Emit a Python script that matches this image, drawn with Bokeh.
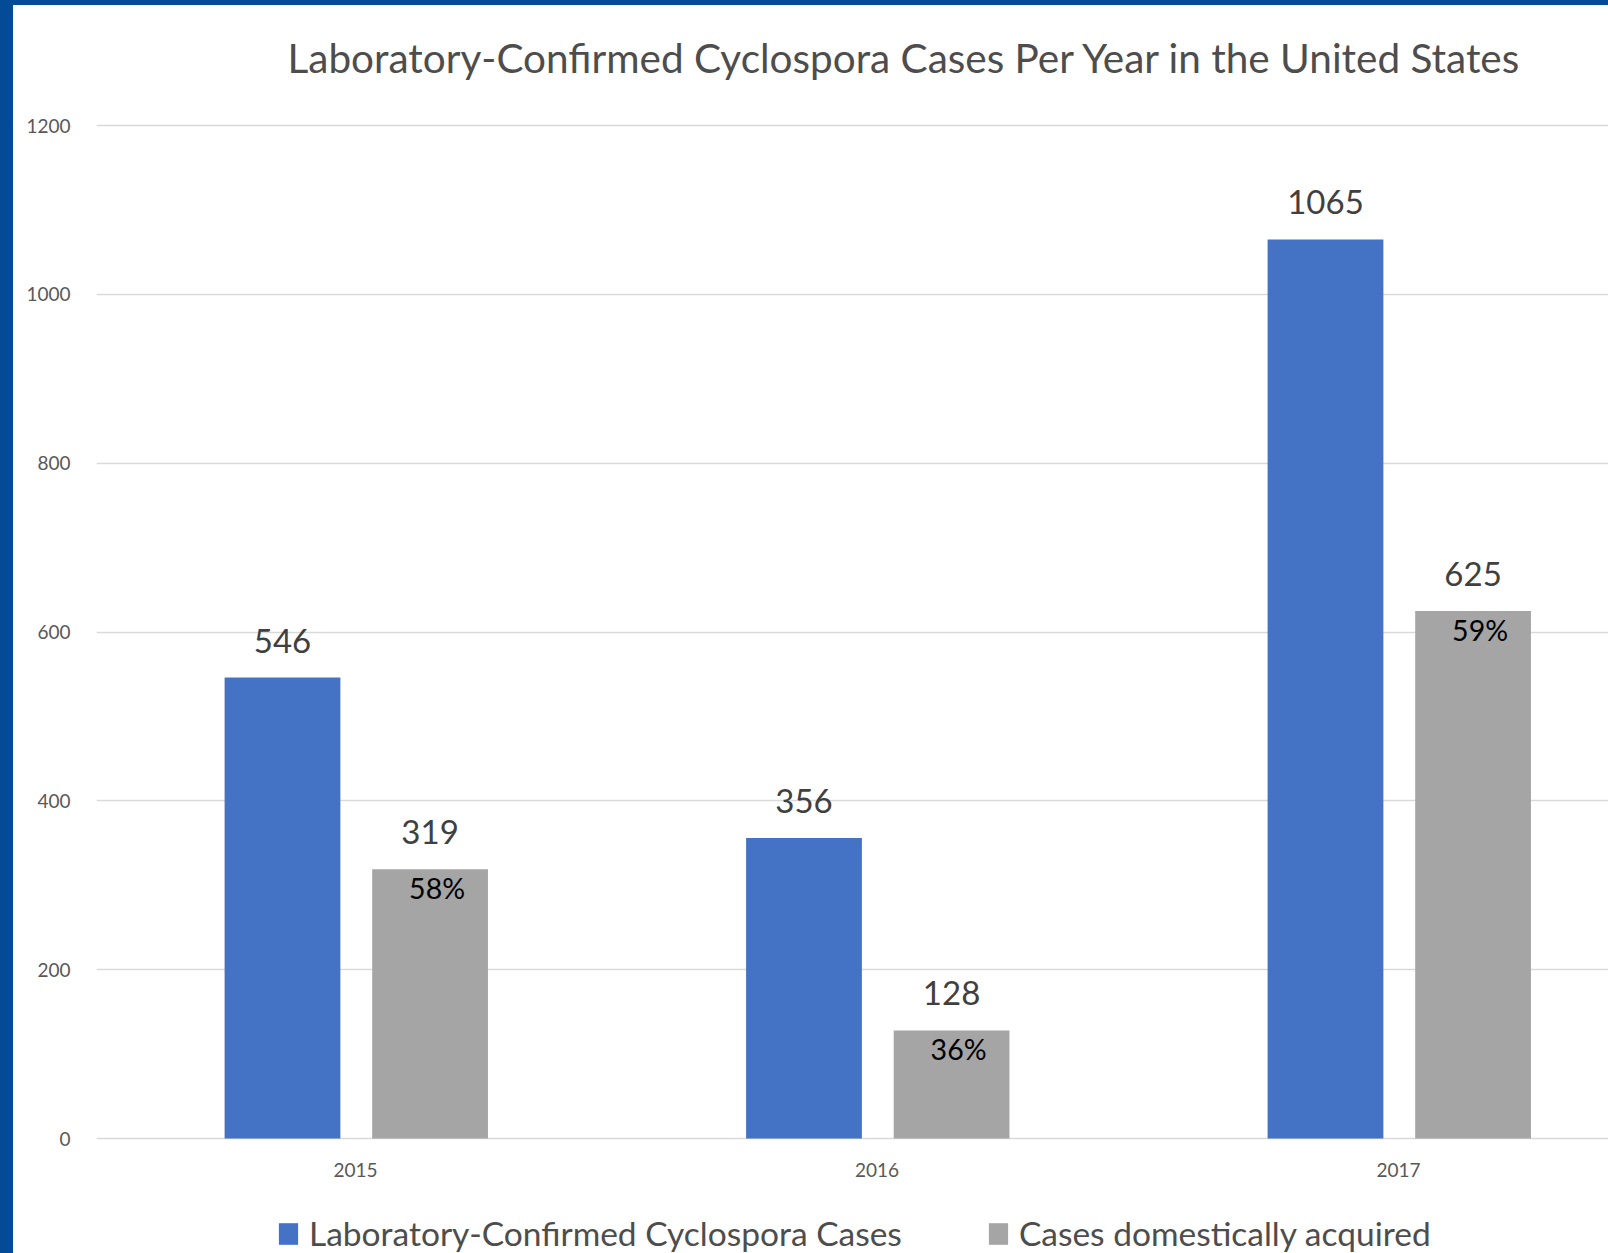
from bokeh.plotting import figure
from bokeh.models import Range1d, FixedTicker, Legend, LegendItem, Spacer
from bokeh.layouts import row, column
from bokeh.core.properties import value
from bokeh.embed import file_html
from bokeh.resources import INLINE

# ---- data ----
years = ["2015", "2016", "2017"]
confirmed = [546, 356, 1065]
domestic = [319, 128, 625]
domestic_pct = ["58%", "36%", "59%"]
series_names = ["Laboratory-Confirmed Cyclospora Cases", "Cases domestically acquired"]
y_ticks = [0, 200, 400, 600, 800, 1000, 1200]
title_text = "Laboratory-Confirmed Cyclospora Cases Per Year in the United States"

# ---- style / geometry ----
FONT = "Lato"
BLUE = "#4472C4"
GRAY = "#A5A5A5"
TXT = "#595959"
TXT_DARK = "#4d4d4d"
EDGE = "#034a97"
W, H = 1595, 1248
FL, FT = 83, 100
Y0_PX, Y1200_PX = 1133, 120          # canvas rows of value 0 and 1200
px_per_val = (Y0_PX - Y1200_PX) / 1200.0
y_end = 1200 + (Y1200_PX - FT) / px_per_val
y_start = -(H - Y0_PX) / px_per_val

pos = [i + 0.5 for i in range(len(years))]
x_blue = [c - 0.14 for c in pos]
x_gray = [c + 0.143 for c in pos]
px_per_unit = 521.5
x_start = 0.5 - 259 / px_per_unit
x_end = x_start + (W - FL) / px_per_unit

p = figure(width=W, height=H, x_range=Range1d(x_start, x_end), y_range=Range1d(y_start, y_end),
           output_backend="svg", toolbar_location=None,
           min_border_left=FL, min_border_right=0, min_border_top=FT, min_border_bottom=0)
p.outline_line_color = None
p.background_fill_color = "white"
p.border_fill_color = "white"

p.title.text = title_text
p.title.text_font = FONT
p.title.text_font_size = "40.5px"
p.title.text_font_style = "normal"
p.title.text_color = TXT_DARK
p.title.align = "left"
p.title.vertical_align = "bottom"
p.title.offset = 191
p.title.standoff = 48

r1 = p.vbar(x=x_blue, top=confirmed, width=0.222, color=BLUE, line_color=None)
r2 = p.vbar(x=x_gray, top=domestic, width=0.222, color=GRAY, line_color=None)

p.text(x=x_blue, y=confirmed, text=[str(v) for v in confirmed], text_align="center",
       text_baseline="middle", y_offset=-37, text_font=value(FONT), text_font_size="33px",
       text_color="#404040")
p.text(x=x_gray, y=domestic, text=[str(v) for v in domestic], text_align="center",
       text_baseline="middle", y_offset=-37, text_font=value(FONT), text_font_size="33px",
       text_color="#404040")
p.text(x=x_gray, y=domestic, text=domestic_pct, text_align="center",
       text_baseline="middle", x_offset=7, y_offset=19, text_font=value(FONT),
       text_font_size="28.5px", text_color="black")

# category labels under the bars
p.text(x=pos, y=[0] * len(pos), text=years, text_align="center", text_baseline="middle",
       y_offset=31, text_font=value(FONT), text_font_size="19px", text_color=TXT)

p.xaxis.visible = False
p.xgrid.grid_line_color = None
p.ygrid.grid_line_color = "#d9d9d9"
p.ygrid.grid_line_width = 1.5
p.yaxis.ticker = FixedTicker(ticks=y_ticks)
ax = p.yaxis[0]
ax.axis_line_color = None
ax.major_tick_line_color = None
ax.minor_tick_line_color = None
ax.major_label_text_font = FONT
ax.major_label_text_font_size = "19px"
ax.major_label_text_color = TXT
ax.major_label_standoff = 20

legend = Legend(items=[LegendItem(label=series_names[0], renderers=[r1]),
                       LegendItem(label=series_names[1], renderers=[r2])],
                orientation="horizontal", location=(180, 0),
                glyph_width=24, glyph_height=27, label_standoff=9, spacing=84,
                padding=0, margin=0, border_line_color=None, background_fill_alpha=0,
                label_text_font=FONT, label_text_font_size="33.5px", label_text_color=TXT_DARK)
p.add_layout(legend, "center")

top_strip = Spacer(width=W + 13, height=5, styles={"background-color": EDGE})
left_strip = Spacer(width=13, height=H, styles={"background-color": EDGE})
layout = column(top_strip, row(left_strip, p))

open("out.html", "w").write(file_html(layout, INLINE))
